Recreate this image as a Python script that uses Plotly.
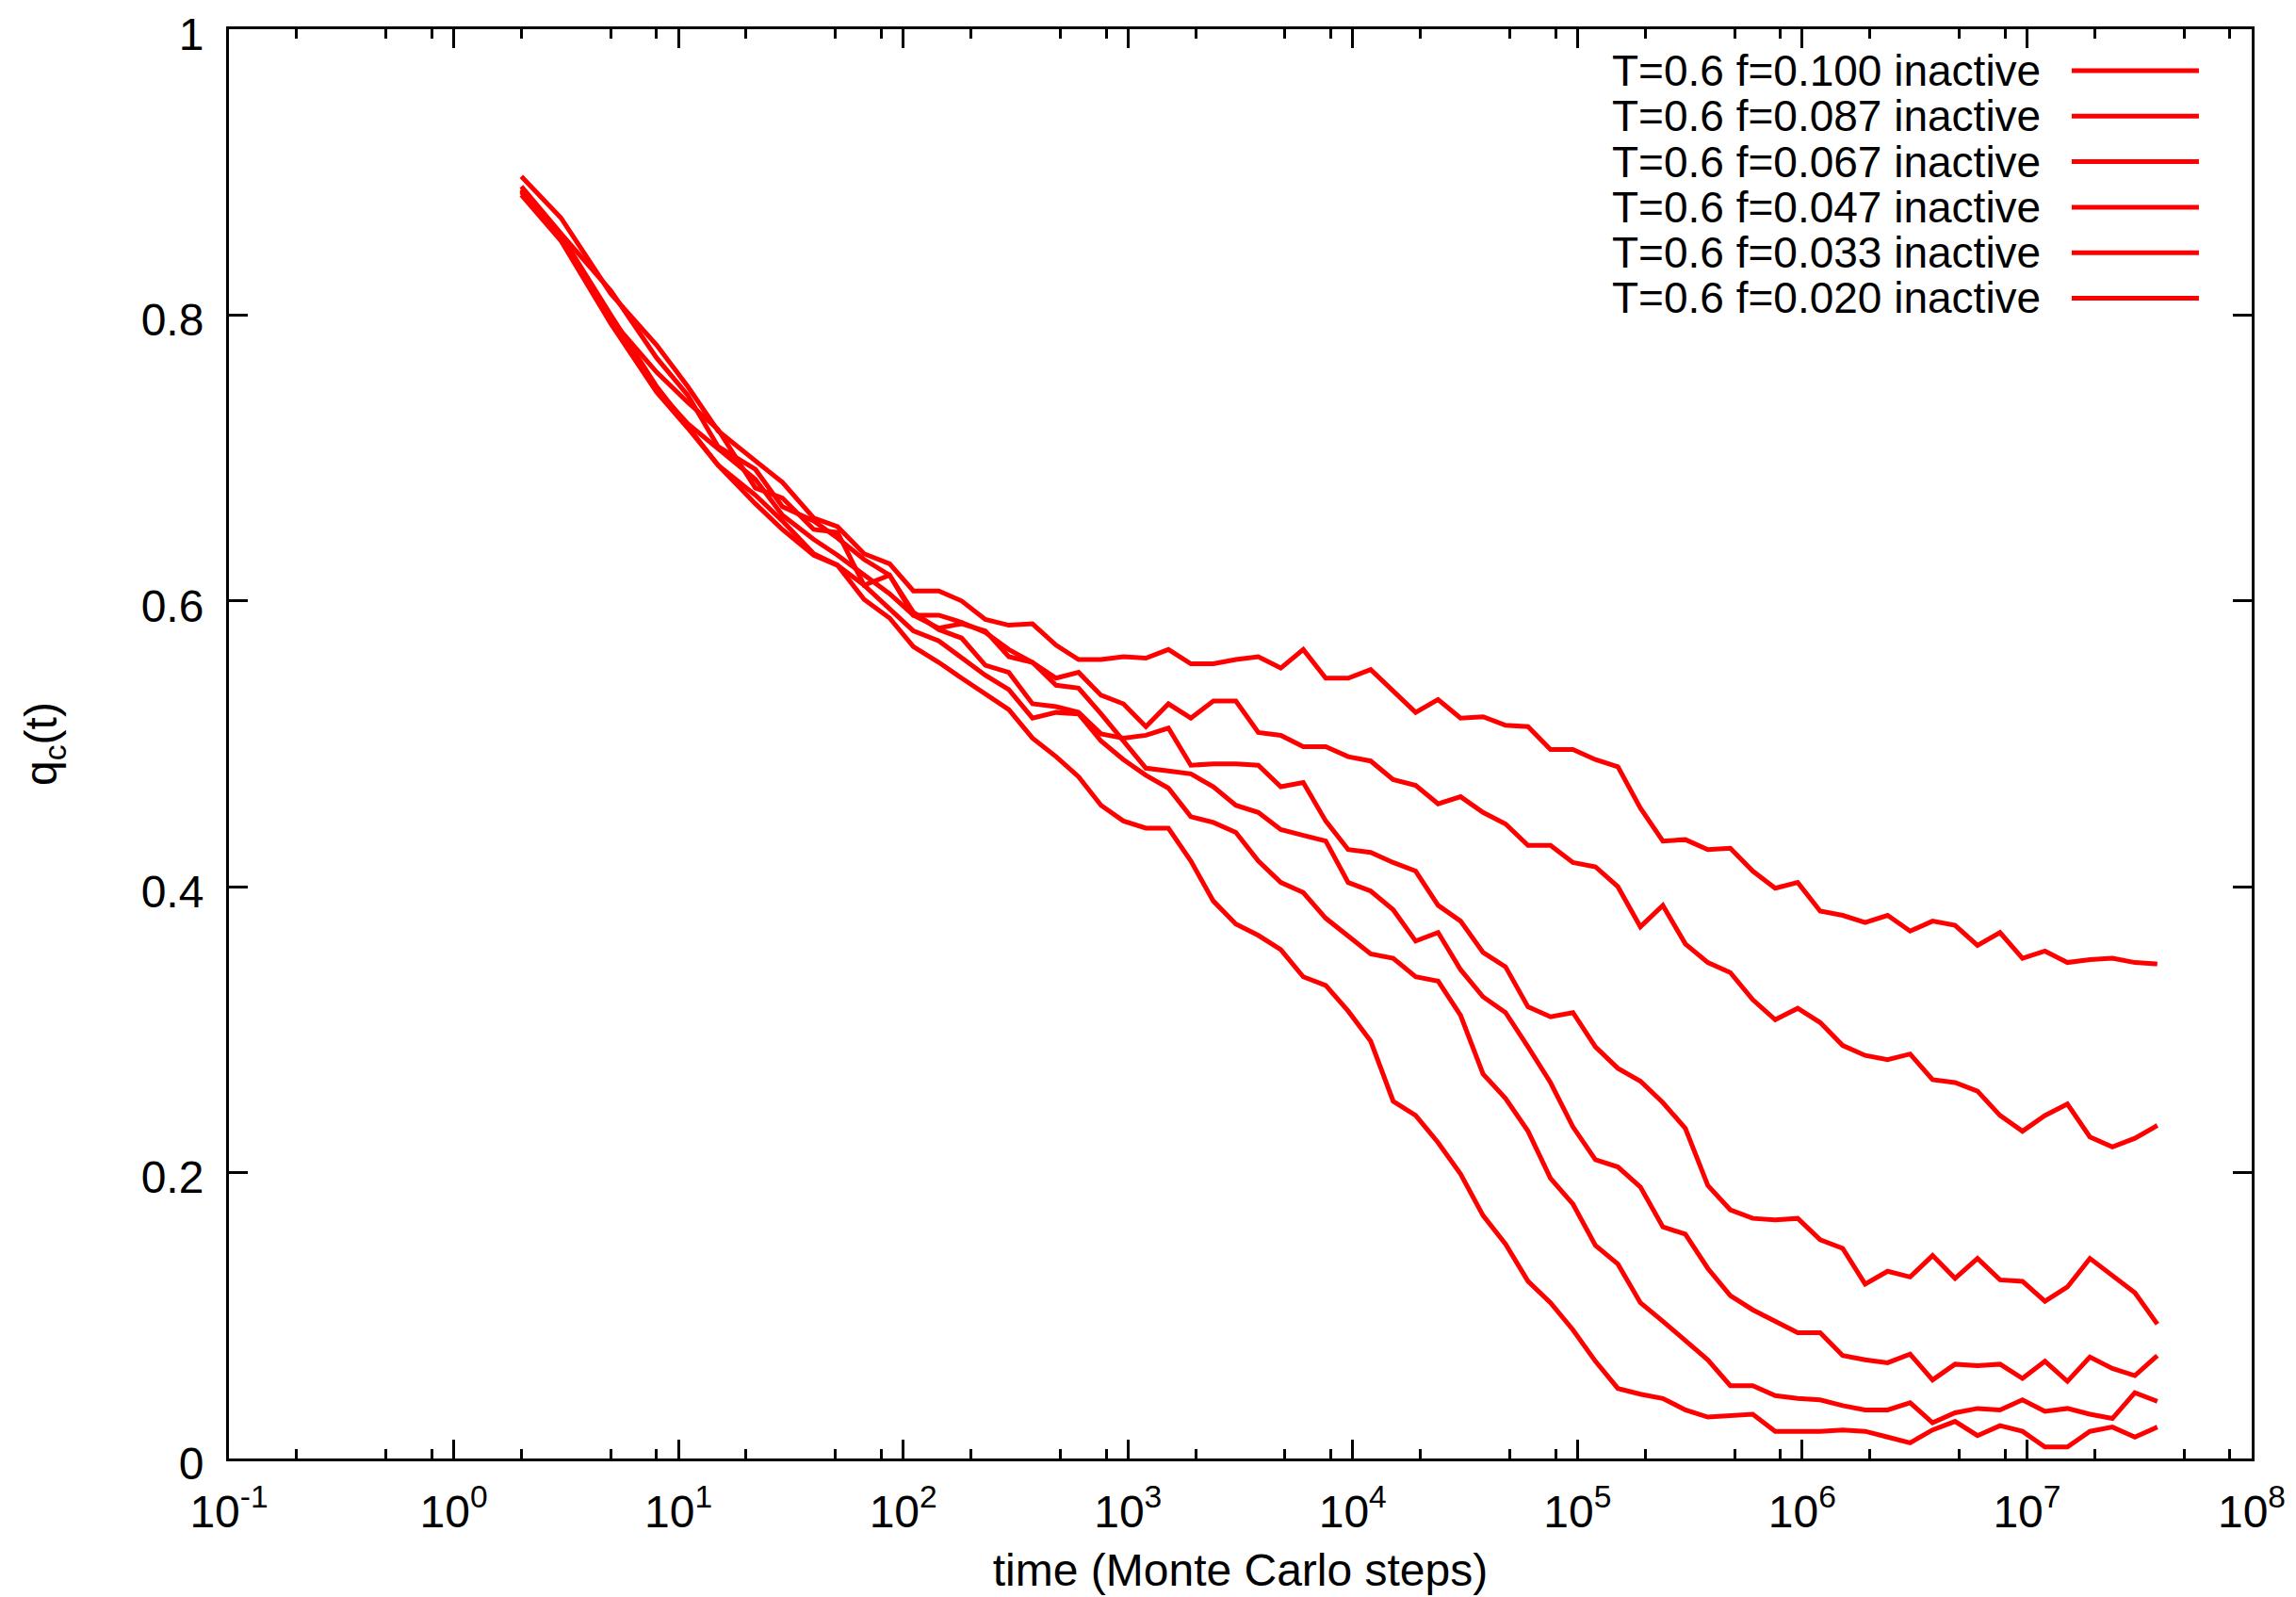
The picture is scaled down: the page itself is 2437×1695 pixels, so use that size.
import plotly.graph_objects as go

# ---------------- data ----------------
time_steps = [2, 3, 5, 8, 11, 15, 22, 29, 40, 51, 67, 87, 111, 144, 182, 232, 295, 376,
              479, 603, 759, 955, 1202, 1514, 1905, 2399, 3020, 3802, 4786, 6026, 7586, 9550,
              12023, 15136, 19055, 23988, 30200, 38019, 47863, 60256, 75858, 95499,
              120226, 151356, 190546, 239883, 301995, 380189, 478630, 602560, 758578, 954993,
              1202264, 1513561, 1905461, 2398833, 3019952, 3801894, 4786301, 6025596, 7585776, 9549926,
              12022644, 15135612, 19054607, 23988329, 30199517, 38018940]

q_f0100 = [0.897, 0.868, 0.815, 0.779, 0.750, 0.719, 0.698, 0.683, 0.658, 0.652,
           0.633, 0.626, 0.607, 0.607, 0.600, 0.587, 0.583, 0.584, 0.569, 0.559,
           0.559, 0.561, 0.560, 0.566, 0.556, 0.556, 0.559, 0.561, 0.553, 0.566,
           0.546, 0.546, 0.552, 0.537, 0.522, 0.531, 0.518, 0.519, 0.513, 0.512,
           0.496, 0.496, 0.489, 0.484, 0.455, 0.432, 0.433, 0.426, 0.427, 0.411,
           0.399, 0.403, 0.383, 0.380, 0.375, 0.380, 0.369, 0.376, 0.373, 0.359,
           0.368, 0.350, 0.355, 0.347, 0.349, 0.350, 0.347, 0.346]

q_f0087 = [0.890, 0.857, 0.817, 0.770, 0.744, 0.708, 0.692, 0.666, 0.656, 0.644,
           0.629, 0.618, 0.590, 0.590, 0.585, 0.578, 0.566, 0.557, 0.546, 0.550,
           0.534, 0.528, 0.512, 0.528, 0.518, 0.530, 0.530, 0.508, 0.506, 0.498,
           0.498, 0.491, 0.488, 0.475, 0.471, 0.458, 0.463, 0.452, 0.444, 0.429,
           0.429, 0.417, 0.414, 0.400, 0.372, 0.387, 0.360, 0.347, 0.340, 0.321,
           0.307, 0.315, 0.305, 0.289, 0.282, 0.279, 0.283, 0.265, 0.263, 0.257,
           0.240, 0.229, 0.240, 0.248, 0.225, 0.218, 0.224, 0.233]

q_f0067 = [0.888, 0.855, 0.797, 0.760, 0.739, 0.720, 0.679, 0.672, 0.650, 0.648,
           0.611, 0.618, 0.592, 0.580, 0.574, 0.555, 0.550, 0.528, 0.526, 0.522,
           0.507, 0.504, 0.506, 0.511, 0.485, 0.486, 0.486, 0.485, 0.470, 0.473,
           0.446, 0.426, 0.424, 0.417, 0.411, 0.387, 0.376, 0.354, 0.344, 0.316,
           0.309, 0.312, 0.288, 0.273, 0.264, 0.249, 0.231, 0.191, 0.174, 0.168,
           0.167, 0.168, 0.153, 0.147, 0.122, 0.131, 0.127, 0.142, 0.126, 0.140,
           0.125, 0.124, 0.110, 0.120, 0.140, 0.128, 0.116, 0.094]

q_f0047 = [0.887, 0.853, 0.795, 0.748, 0.724, 0.707, 0.685, 0.660, 0.643, 0.632,
           0.618, 0.605, 0.590, 0.581, 0.584, 0.579, 0.561, 0.557, 0.541, 0.539,
           0.521, 0.502, 0.483, 0.481, 0.479, 0.470, 0.457, 0.452, 0.440, 0.436,
           0.432, 0.403, 0.397, 0.384, 0.362, 0.368, 0.342, 0.323, 0.312, 0.288,
           0.263, 0.232, 0.209, 0.204, 0.190, 0.162, 0.157, 0.133, 0.114, 0.104,
           0.096, 0.088, 0.088, 0.072, 0.069, 0.067, 0.073, 0.055, 0.066, 0.065,
           0.066, 0.056, 0.068, 0.054, 0.071, 0.063, 0.058, 0.072]

q_f0033 = [0.886, 0.856, 0.800, 0.750, 0.722, 0.695, 0.674, 0.656, 0.633, 0.625,
           0.611, 0.595, 0.579, 0.572, 0.560, 0.548, 0.538, 0.518, 0.522, 0.521,
           0.502, 0.489, 0.478, 0.469, 0.449, 0.445, 0.438, 0.418, 0.403, 0.396,
           0.378, 0.365, 0.353, 0.350, 0.337, 0.334, 0.310, 0.269, 0.252, 0.229,
           0.196, 0.178, 0.149, 0.136, 0.109, 0.096, 0.082, 0.069, 0.051, 0.051,
           0.044, 0.042, 0.041, 0.037, 0.034, 0.034, 0.039, 0.025, 0.032, 0.035,
           0.034, 0.041, 0.033, 0.035, 0.031, 0.028, 0.046, 0.040]

q_f0020 = [0.884, 0.852, 0.794, 0.746, 0.721, 0.695, 0.668, 0.650, 0.632, 0.625,
           0.601, 0.588, 0.568, 0.557, 0.546, 0.535, 0.524, 0.504, 0.491, 0.477,
           0.457, 0.446, 0.441, 0.441, 0.418, 0.390, 0.374, 0.366, 0.356, 0.337,
           0.331, 0.313, 0.292, 0.250, 0.240, 0.221, 0.199, 0.170, 0.150, 0.124,
           0.109, 0.090, 0.068, 0.049, 0.045, 0.042, 0.034, 0.029, 0.030, 0.031,
           0.019, 0.019, 0.019, 0.020, 0.019, 0.015, 0.011, 0.020, 0.026, 0.016,
           0.023, 0.019, 0.008, 0.008, 0.019, 0.022, 0.015, 0.022]

series_labels = ["T=0.6 f=0.100 inactive", "T=0.6 f=0.087 inactive",
                 "T=0.6 f=0.067 inactive", "T=0.6 f=0.047 inactive",
                 "T=0.6 f=0.033 inactive", "T=0.6 f=0.020 inactive"]
series_values = [q_f0100, q_f0087, q_f0067, q_f0047, q_f0033, q_f0020]

x_tick_vals = [0.1, 1, 10, 100, 1e3, 1e4, 1e5, 1e6, 1e7, 1e8]
x_tick_text = ["10<sup>-1</sup>", "10<sup>0</sup>", "10<sup>1</sup>", "10<sup>2</sup>",
               "10<sup>3</sup>", "10<sup>4</sup>", "10<sup>5</sup>", "10<sup>6</sup>",
               "10<sup>7</sup>", "10<sup>8</sup>"]
y_tick_vals = [0, 0.2, 0.4, 0.6, 0.8, 1.0]
y_tick_text = ["0", "0.2", "0.4", "0.6", "0.8", "1"]

# ---------------- style ----------------
RED = "#ff0000"
FONT = "Liberation Sans, Arial, Helvetica, sans-serif"
FS = 48
LEG_FS = 46
LW = 5

fig = go.Figure()
for label, vals in zip(series_labels, series_values):
    fig.add_trace(go.Scatter(x=time_steps, y=vals, mode="lines", name=label,
                             line=dict(color=RED, width=LW), showlegend=False))

minor_vals = [m * 10.0 ** d for d in range(-1, 8) for m in (2, 5, 8)]

axis_common = dict(showline=True, linewidth=3, linecolor="black", mirror="ticks",
                   ticks="inside", ticklen=20, tickwidth=2.5, tickcolor="black",
                   showgrid=False, zeroline=False, automargin=False,
                   ticklabeloverflow="allow",
                   tickfont=dict(family=FONT, size=FS, color="black"))

fig.update_xaxes(type="log", range=[-1, 8], tickmode="array",
                 tickvals=x_tick_vals, ticktext=x_tick_text,
                 minor=dict(tickmode="array", tickvals=minor_vals, ticks="inside",
                            ticklen=10, tickwidth=2.5, tickcolor="black", showgrid=False),
                 ticklabelstandoff=12,
                 title=dict(text="time (Monte Carlo steps)",
                            font=dict(family=FONT, size=FS, color="black"), standoff=20),
                 **axis_common)
fig.update_yaxes(range=[0, 1], tickmode="array", tickvals=y_tick_vals, ticktext=y_tick_text,
                 ticklabelstandoff=14, ticklabelshift=5,
                 title=dict(text="q<sub>c</sub>(t)",
                            font=dict(family=FONT, size=FS, color="black"), standoff=74),
                 **axis_common)

# legend drawn gnuplot-style: right-justified text followed by a line sample
legend_rows_y = [0.97099, 0.93915, 0.90731, 0.87548, 0.84364, 0.81180]
for label, yy in zip(series_labels, legend_rows_y):
    fig.add_annotation(x=0.8966, y=yy, xref="paper", yref="paper", text=label,
                       xanchor="right", yanchor="middle", showarrow=False,
                       font=dict(family=FONT, size=LEG_FS, color="black"))
    fig.add_shape(type="line", xref="paper", yref="paper", x0=0.9110, x1=0.9739,
                  y0=yy, y1=yy, line=dict(color=RED, width=LW))

# the html page body has an 8 px margin: size the figure to fit the window exactly
fig.update_layout(width=2429, height=1687, autosize=False,
                  paper_bgcolor="white", plot_bgcolor="white",
                  margin=dict(l=235, r=47, t=23, b=147, pad=0),
                  font=dict(family=FONT, size=FS, color="black"))

fig.write_html("out.html")
